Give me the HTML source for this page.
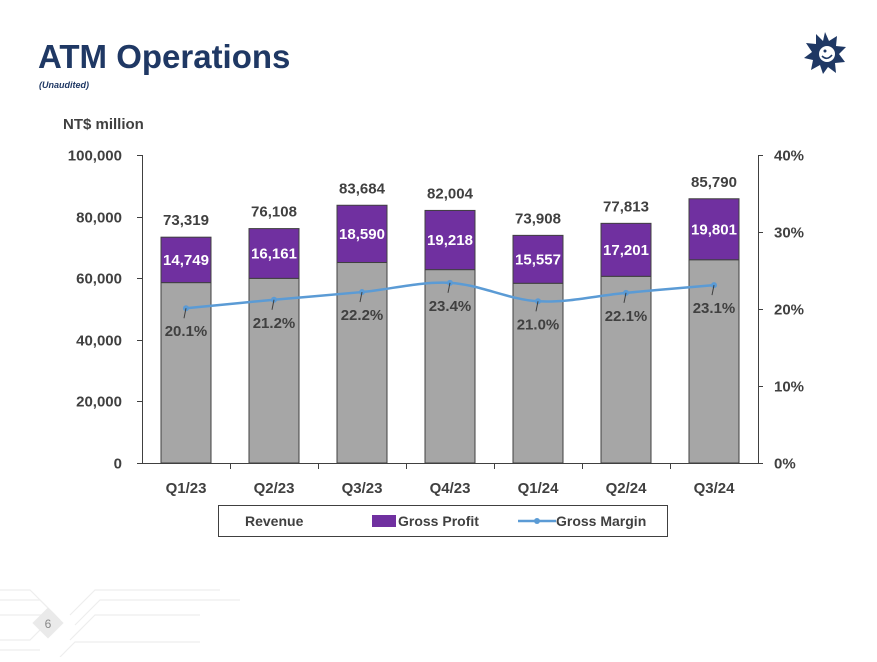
<!DOCTYPE html>
<html><head><meta charset="utf-8"><style>
body{margin:0;background:#fff;width:877px;height:657px;overflow:hidden;font-family:"Liberation Sans",sans-serif;}
svg text{font-family:"Liberation Sans",sans-serif;}
</style></head><body>
<svg width="877" height="657" xmlns="http://www.w3.org/2000/svg" id="chart">
<g stroke="#eee" stroke-width="1.2" fill="none">
<path d="M0 590 L30 590 L55 615 L0 615"/><path d="M0 600 L40 600 L60 620"/><path d="M0 640 L30 640 L50 620"/>
<path d="M70 615 L95 590 L220 590"/><path d="M75 625 L100 600 L240 600"/><path d="M70 640 L95 615 L200 615"/>
<path d="M0 650 L40 650"/><path d="M60 657 L75 642 L200 642"/>
<rect x="37" y="612" width="22" height="22" fill="#eaeaea" stroke="none" transform="rotate(45 48 623)"/>
</g>
<text x="48" y="628" font-size="12" fill="#888" text-anchor="middle">6</text>
<text x="38" y="68" font-size="33" font-weight="bold" fill="#1f3864">ATM Operations</text>
<text x="39" y="88" font-size="9" font-style="italic" font-weight="bold" fill="#1f3864">(Unaudited)</text>
<g transform="translate(825,53)">
<polygon fill="#1f3864" points="0,-21 4,-12 12,-17 11,-7 21,-6 14,1 20,9 10,10 11,20 3,14 -2,21 -5,12 -14,17 -12,7 -21,5 -13,-1 -19,-10 -9,-9 -9,-19 -2,-12"/>
<circle cx="2" cy="1" r="8" fill="#fff"/><circle cx="0" cy="-2" r="1.5" fill="#1f3864"/><path d="M-3 3 Q2 8 7 2" stroke="#1f3864" stroke-width="1.6" fill="none"/>
</g>
<text x="63" y="129" font-size="15" font-weight="bold" fill="#404040">NT$ million</text>
<g id="plot"></g>
<g>
<rect x="218.5" y="505.5" width="449" height="31" fill="#fff" stroke="#404040"/>
<g><text x="245" y="526" font-size="14" font-weight="bold" fill="#404040">Revenue</text></g>
<g><rect x="372" y="515" width="24" height="12" fill="#7030a0"/><text x="398" y="526" font-size="14" font-weight="bold" fill="#404040">Gross Profit</text></g>
<g><line x1="518" y1="521" x2="556" y2="521" stroke="#5b9bd5" stroke-width="2.5"/><circle cx="537" cy="521" r="3" fill="#5b9bd5"/><text x="556" y="526" font-size="14" font-weight="bold" fill="#404040">Gross Margin</text></g>
</g>
</svg>
<script>
const categories=["Q1/23","Q2/23","Q3/23","Q4/23","Q1/24","Q2/24","Q3/24"];
const revenue=[73319,76108,83684,82004,73908,77813,85790];
const grossProfit=[14749,16161,18590,19218,15557,17201,19801];
const grossMargin=[20.1,21.2,22.2,23.4,21.0,22.1,23.1];
const leftTicks=[0,20000,40000,60000,80000,100000];
const rightTicks=[0,10,20,30,40];
const NS="http://www.w3.org/2000/svg";
const g=document.getElementById('plot');
const X0=142,X1=758,Y0=463,Y1=155;
const band=(X1-X0)/categories.length;
const xc=i=>X0+band*(i+0.5);
const yL=v=>Y0-(v/100000)*(Y0-Y1);
const yR=v=>Y0-(v/40)*(Y0-Y1);
function el(t,a,p){const e=document.createElementNS(NS,t);for(const k in a)e.setAttribute(k,a[k]);(p||g).appendChild(e);return e;}
function tx(x,y,s,a,p){const e=el('text',Object.assign({x:x,y:y,'font-size':15,'font-weight':'bold',fill:'#404040'},a),p);e.textContent=s;return e;}
// axes
const ax=el('g',{});


el('line',{x1:X0+.5,y1:Y1,x2:X0+.5,y2:Y0,stroke:'#404040'},ax);
el('line',{x1:X1+.5,y1:Y1,x2:X1+.5,y2:Y0,stroke:'#404040'},ax);
el('line',{x1:X0,y1:Y0+.5,x2:X1,y2:Y0+.5,stroke:'#404040'},ax);
leftTicks.forEach(v=>{const y=Math.round(yL(v))+.5;el('line',{x1:X0-5,y1:y,x2:X0,y2:y,stroke:'#404040'},ax);
const t=tx(122,y+5,v.toLocaleString('en-US'),{'text-anchor':'end'},ax);

});
rightTicks.forEach(v=>{const y=Math.round(yR(v))+.5;el('line',{x1:X1,y1:y,x2:X1+5,y2:y,stroke:'#404040'},ax);
const t=tx(774,y+5,v+'%',{},ax);

});
for(let i=1;i<categories.length;i++){const x=Math.round(X0+band*i)+.5;el('line',{x1:x,y1:Y0,x2:x,y2:Y0+6,stroke:'#404040'},ax);}
categories.forEach((c,i)=>{const t=tx(xc(i),493,c,{'text-anchor':'middle'},ax);

});
// bars
const bw=50;
categories.forEach((c,i)=>{
const bg=el('g',{});


const base=revenue[i]-grossProfit[i];
el('rect',{x:xc(i)-bw/2,y:yL(base),width:bw,height:Y0-yL(base),fill:'#a6a6a6',stroke:'#404040','stroke-width':1},bg);
el('rect',{x:xc(i)-bw/2,y:yL(revenue[i]),width:bw,height:yL(base)-yL(revenue[i]),fill:'#7030a0',stroke:'#404040','stroke-width':1},bg);
tx(xc(i),(yL(base)+yL(revenue[i]))/2+5,grossProfit[i].toLocaleString('en-US'),{'text-anchor':'middle',fill:'#fff'},bg);
tx(xc(i),yL(revenue[i])-12,revenue[i].toLocaleString('en-US'),{'text-anchor':'middle'},bg);
});
// line
const pts=grossMargin.map((v,i)=>[xc(i),yR(v)]);
let d='M'+pts[0][0]+' '+pts[0][1];
for(let i=0;i<pts.length-1;i++){const p0=pts[i-1]||pts[i],p1=pts[i],p2=pts[i+1],p3=pts[i+2]||p2;
d+=` C${p1[0]+(p2[0]-p0[0])/6} ${p1[1]+(p2[1]-p0[1])/6} ${p2[0]-(p3[0]-p1[0])/6} ${p2[1]-(p3[1]-p1[1])/6} ${p2[0]} ${p2[1]}`;}
const ln=el('path',{d:d,fill:'none',stroke:'#5b9bd5','stroke-width':2.5});


pts.forEach((p,i)=>{
const m=el('circle',{cx:p[0],cy:p[1],r:3,fill:'#5b9bd5'});


el('line',{x1:p[0],y1:p[1],x2:p[0]-2,y2:p[1]+10,stroke:'#404040','stroke-width':1});
const t=tx(p[0],p[1]+28,grossMargin[i].toFixed(1)+'%',{'text-anchor':'middle'});


});
</script>
</body></html>
